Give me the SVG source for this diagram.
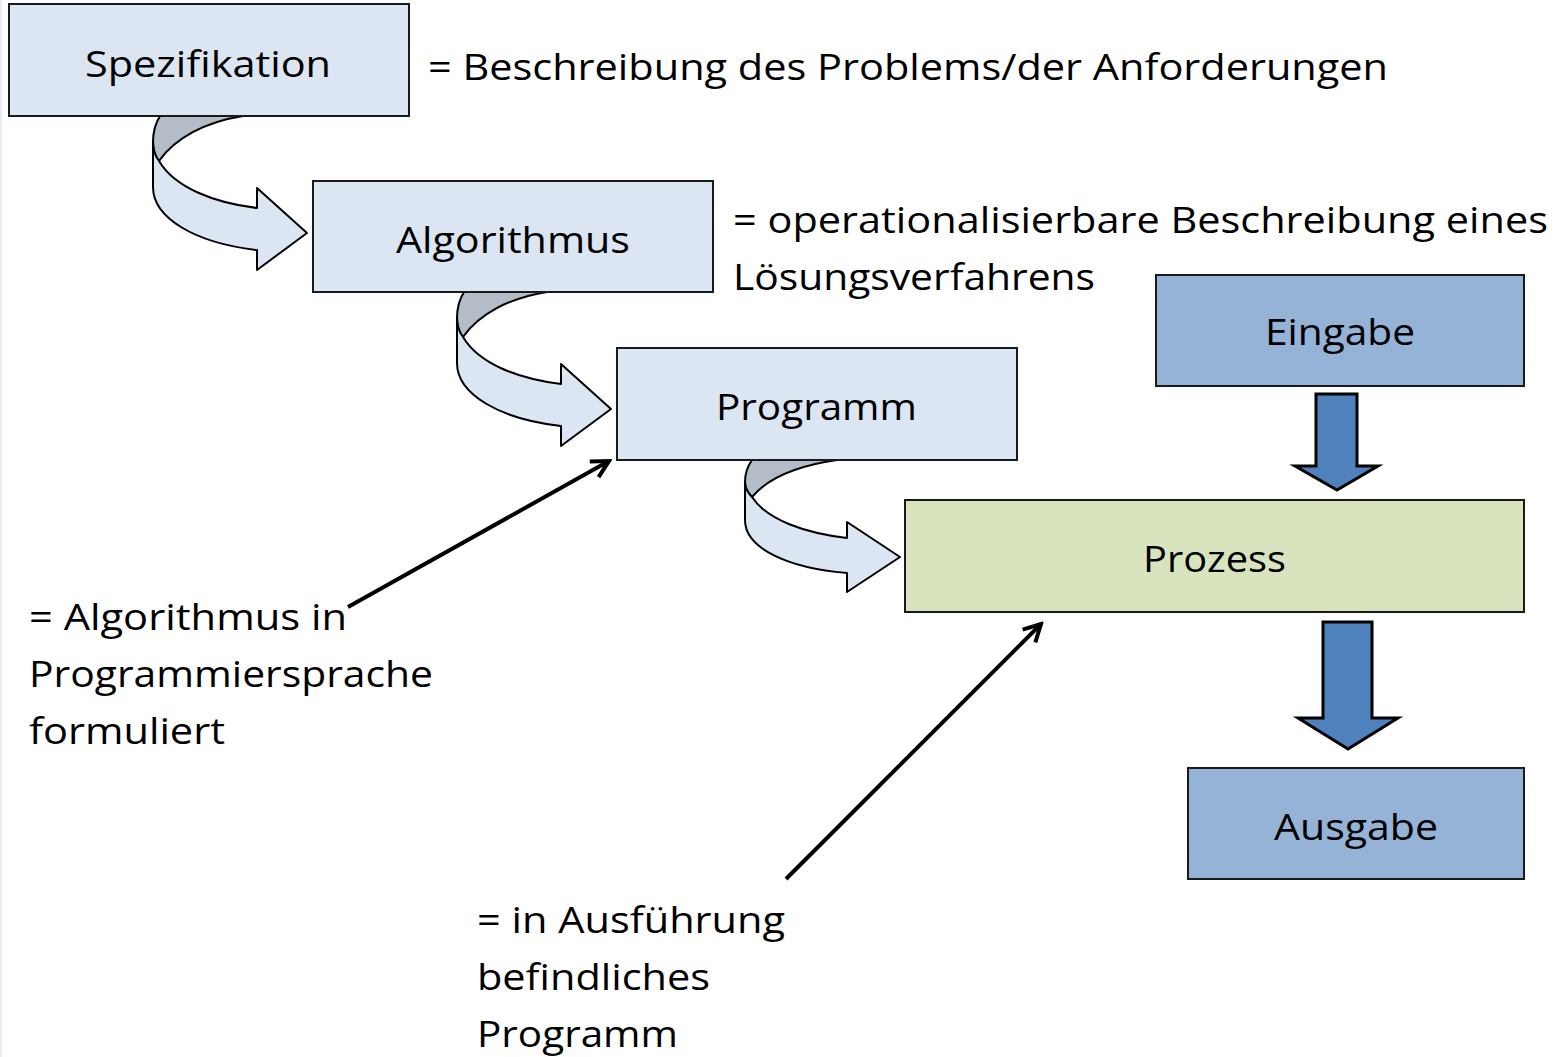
<svg xmlns="http://www.w3.org/2000/svg" width="1559" height="1057" viewBox="0 0 1559 1057">
<style>
.box{stroke:#1a1a1a;stroke-width:2}
.lb{fill:#dce6f2}
.gr{fill:#d7e4bd}
.bl{fill:#95b3d7}
.t{font-family:"Open Sans","Liberation Sans",sans-serif;font-size:37px;fill:#000}
.front{fill:#dce6f2;stroke:#000;stroke-width:2;stroke-linejoin:round}
.back{fill:#b3bcc7;stroke:#000;stroke-width:2;stroke-linejoin:round}
.down{fill:#4f81bd;stroke:#000;stroke-width:3;stroke-linejoin:miter}
.pt{stroke:#000;stroke-width:4;fill:none;marker-end:url(#open)}
</style>
<defs>
<marker id="open" viewBox="0 0 24 24" refX="21" refY="12" markerWidth="24" markerHeight="24" markerUnits="userSpaceOnUse" orient="auto">
<path d="M4,3 L21,12 L4,21" fill="none" stroke="#000" stroke-width="4"/>
</marker>
<g id="curl">
<path class="back" d="M160,116 C155,124 153,132 153,142 C153,150 155,156 159,161 C175,138 205,122 243,116 Z"/>
<path class="front" d="M153,142 L153,187 C153,218 195,243 257,250 L257,270 L307,233 L257,188 L257,208 C215,203 175,188 159,161 C155,156 153,150 153,142 Z"/>
</g>
</defs>
<rect x="0" y="0" width="2" height="1057" fill="#e6ecf6"/>

<g id="connectors">
<use href="#curl"/>
<use href="#curl" transform="translate(304,176)"/>
<g>
<path class="back" d="M752,460 C747,467 745,474 745,482 C745,489 748,493 752,497 C768,478 795,466 837,460 Z"/>
<path class="front" d="M745,482 L745,520 C745,548 787,568 847,573 L847,592 L900,557 L847,522 L847,538 C805,533 767,520 752,497 C748,493 745,489 745,482 Z"/>
</g>
<path class="down" d="M1316,394 L1357,394 L1357,466 L1378,466 L1337,490 L1295,466 L1316,466 Z"/>
<path class="down" d="M1323,622 L1372,622 L1372,718 L1398,718 L1348,749 L1298,718 L1323,718 Z"/>
<line class="pt" x1="348" y1="607" x2="609" y2="461"/>
<line class="pt" x1="786" y1="879" x2="1041" y2="624"/>
</g>

<g id="spezifikation">
<rect class="box lb" x="9" y="4" width="400" height="112"/>
<text class="t" x="85" y="77" textLength="246" lengthAdjust="spacingAndGlyphs">Spezifikation</text>
</g>
<g id="algorithmus">
<rect class="box lb" x="313" y="181" width="400" height="111"/>
<text class="t" x="396" y="253" textLength="234" lengthAdjust="spacingAndGlyphs">Algorithmus</text>
</g>
<g id="programm">
<rect class="box lb" x="617" y="348" width="400" height="112"/>
<text class="t" x="716" y="420" textLength="201" lengthAdjust="spacingAndGlyphs">Programm</text>
</g>
<g id="prozess">
<rect class="box gr" x="905" y="500" width="619" height="112"/>
<text class="t" x="1143" y="572" textLength="143" lengthAdjust="spacingAndGlyphs">Prozess</text>
</g>
<g id="eingabe">
<rect class="box bl" x="1156" y="275" width="368" height="111"/>
<text class="t" x="1265" y="345" textLength="150" lengthAdjust="spacingAndGlyphs">Eingabe</text>
</g>
<g id="ausgabe">
<rect class="box bl" x="1188" y="768" width="336" height="111"/>
<text class="t" x="1274" y="840" textLength="164" lengthAdjust="spacingAndGlyphs">Ausgabe</text>
</g>

<g id="labels">
<text class="t" x="428" y="80" textLength="960" lengthAdjust="spacingAndGlyphs">= Beschreibung des Problems/der Anforderungen</text>
<text class="t" x="733" y="233" textLength="815" lengthAdjust="spacingAndGlyphs">= operationalisierbare Beschreibung eines</text>
<text class="t" x="733" y="290" textLength="362" lengthAdjust="spacingAndGlyphs">Lösungsverfahrens</text>
<text class="t" x="29" y="630" textLength="318" lengthAdjust="spacingAndGlyphs">= Algorithmus in</text>
<text class="t" x="29" y="687" textLength="404" lengthAdjust="spacingAndGlyphs">Programmiersprache</text>
<text class="t" x="29" y="744" textLength="196" lengthAdjust="spacingAndGlyphs">formuliert</text>
<text class="t" x="477" y="933" textLength="308" lengthAdjust="spacingAndGlyphs">= in Ausführung</text>
<text class="t" x="477" y="990" textLength="233" lengthAdjust="spacingAndGlyphs">befindliches</text>
<text class="t" x="477" y="1047" textLength="201" lengthAdjust="spacingAndGlyphs">Programm</text>
</g>
</svg>
